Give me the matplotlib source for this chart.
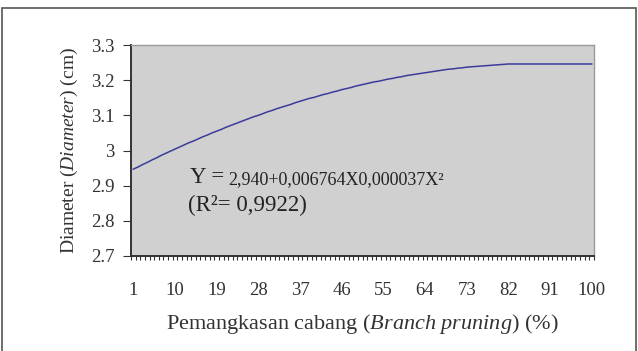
import numpy as np
import matplotlib
matplotlib.use("Agg")
import matplotlib.pyplot as plt
from matplotlib.patches import Rectangle

# ============================================================
# DATA
# ============================================================

pruning = list(range(1, 101))

diameter = [
    2.947, 2.953, 2.960, 2.966, 2.973, 2.979, 2.986, 2.992, 2.998, 3.004,
    3.010, 3.016, 3.022, 3.027, 3.033, 3.039, 3.044, 3.050, 3.055, 3.060,
    3.066, 3.071, 3.076, 3.081, 3.086, 3.091, 3.096, 3.100, 3.105, 3.110,
    3.114, 3.119, 3.123, 3.127, 3.131, 3.136, 3.140, 3.144, 3.148, 3.151,
    3.155, 3.159, 3.162, 3.166, 3.169, 3.173, 3.176, 3.179, 3.183, 3.186,
    3.189, 3.192, 3.195, 3.197, 3.200, 3.203, 3.205, 3.208, 3.210, 3.213,
    3.215, 3.217, 3.219, 3.221, 3.223, 3.225, 3.227, 3.229, 3.231, 3.232,
    3.234, 3.235, 3.237, 3.238, 3.239, 3.240, 3.241, 3.242, 3.243, 3.244,
    3.245, 3.246, 3.246, 3.246, 3.246, 3.246, 3.246, 3.246, 3.246, 3.246,
    3.246, 3.246, 3.246, 3.246, 3.246, 3.246, 3.246, 3.246, 3.246, 3.246,
]

x_labels = [1, 10, 19, 28, 37, 46, 55, 64, 73, 82, 91, 100]
y_ticks = [2.7, 2.8, 2.9, 3.0, 3.1, 3.2, 3.3]
y_labels = ["2.7", "2.8", "2.9", "3", "3.1", "3.2", "3.3"]

# ============================================================
# PLOT
# ============================================================

plt.rcParams["font.family"] = ["Liberation Serif", "DejaVu Serif"]
plt.rcParams["mathtext.fontset"] = "custom"
plt.rcParams["mathtext.rm"] = "Liberation Serif"
plt.rcParams["mathtext.it"] = "Liberation Serif:italic"

W, H = 638, 351
fig = plt.figure(figsize=(W / 100, H / 100), dpi=100)

# chart area border
fig.patches.append(
    Rectangle((2.5 / W, -0.05), 633 / W, (H - 8) / H + 0.05,
              transform=fig.transFigure, fill=False,
              edgecolor="#555555", linewidth=1.2)
)

ax = fig.add_axes([131 / W, 1 - 256 / H, 463 / W, 211 / H])
ax.set_facecolor("#d0d0d0")

ax.plot(pruning, diameter, color="#3b3b9c", linewidth=1.1)

ax.set_xlim(0.5, 100.5)
ax.set_ylim(2.7, 3.3)

# category axis: minor ticks between categories, labels every 9th
ax.set_xticks(np.arange(0.5, 101, 1), minor=True)
ax.set_xticks(x_labels)
ax.set_xticklabels([str(v) for v in x_labels], fontsize=13.5, color="#333333")
ax.tick_params(axis="x", which="major", length=0, pad=19)
ax.tick_params(axis="x", which="minor", length=3, width=0.8,
               direction="out", color="#333333")

ax.set_yticks(y_ticks)
ax.set_yticklabels(y_labels, fontsize=13.5, color="#333333")
ax.tick_params(axis="y", length=6, width=0.8, direction="out",
               color="#333333", pad=6)

for side in ["top", "right"]:
    ax.spines[side].set_color("#9a9a9a")
    ax.spines[side].set_linewidth(1.0)
for side in ["left", "bottom"]:
    ax.spines[side].set_color("#333333")
    ax.spines[side].set_linewidth(1.4)

ax.set_xlabel("Pemangkasan cabang ($\\it{Branch\\ pruning}$) (%)",
              fontsize=16, labelpad=9, color="#333333")
ax.set_ylabel("Diameter ($\\it{Diameter}$) (cm)",
              fontsize=14, labelpad=8, color="#333333")

# regression equation
ax.text(0.127, 0.37, "Y = ", transform=ax.transAxes, fontsize=16.5,
        va="center", ha="left", color="#222222")
ax.text(0.209, 0.36, "2,940+0,006764X0,000037X\u00b2", transform=ax.transAxes,
        fontsize=13, va="center", ha="left", color="#222222")
ax.text(0.124, 0.24, "(R\u00b2= 0,9922)", transform=ax.transAxes, fontsize=16.5,
        va="center", ha="left", color="#222222")

fig.savefig("out.png", dpi=100)
